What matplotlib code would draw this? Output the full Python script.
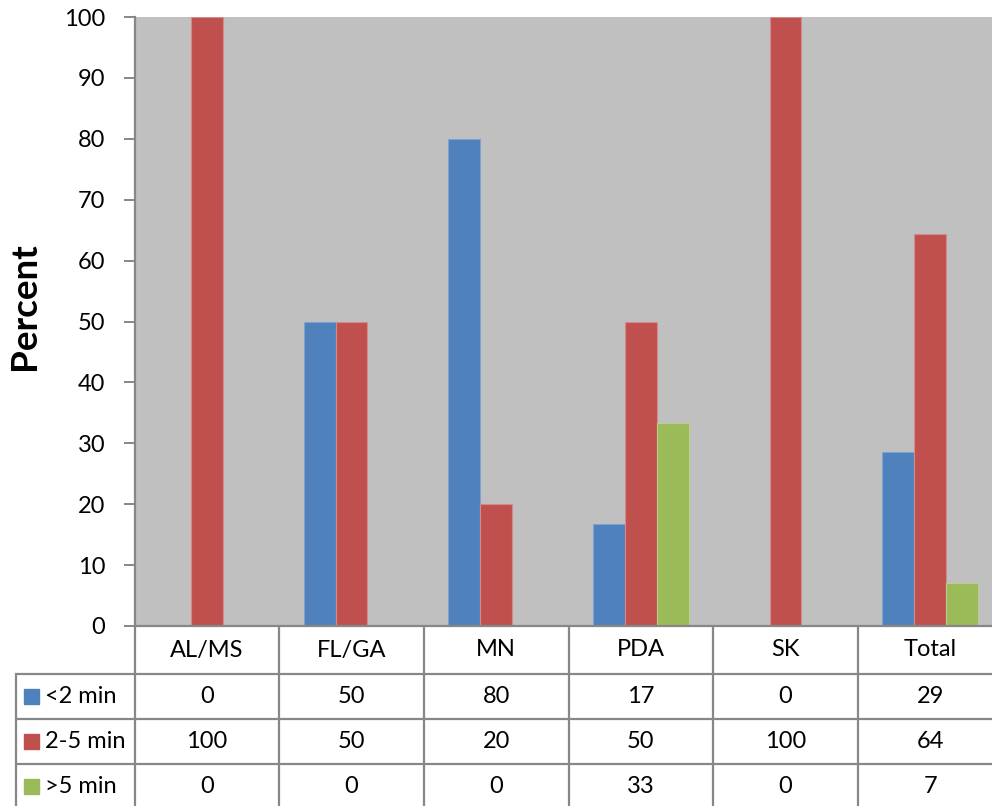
import matplotlib
matplotlib.use("Agg")
import matplotlib.pyplot as plt
import numpy as np

categories = ["AL/MS", "FL/GA", "MN", "PDA", "SK", "Total"]
series_names = ["<2 min", "2-5 min", ">5 min"]
under2 = [0, 50, 80, 16.7, 0, 28.6]
two_five = [100, 50, 20, 50, 100, 64.3]
over5 = [0, 0, 0, 33.3, 0, 7.1]
table_under2 = ["0", "50", "80", "17", "0", "29"]
table_two_five = ["100", "50", "20", "50", "100", "64"]
table_over5 = ["0", "0", "0", "33", "0", "7"]
yticks = [0, 10, 20, 30, 40, 50, 60, 70, 80, 90, 100]

colors = ["#4F81BD", "#C0504D", "#9BBB59"]
edge_colors = ["#7fa3d0", "#d48a88", "#b9cf8a"]
grid_gray = "#878787"
font = ["Lato", "DejaVu Sans"]
plt.rcParams["font.family"] = font
fs = 17

W, H = 992, 806
fig = plt.figure(figsize=(W / 100, H / 100), dpi=100)

px_left, px_right, px_top, px_bottom = 134.5, 1002.5, 17, 626
ax = fig.add_axes([px_left / W, 1 - px_bottom / H, (px_right - px_left) / W, (px_bottom - px_top) / H])
ax.set_facecolor("#C0C0C0")

x = np.arange(len(categories))
bw = 0.221
series = [under2, two_five, over5]
for i, vals in enumerate(series):
    ax.bar(x + (i - 1) * bw, vals, width=bw, color=colors[i], edgecolor=edge_colors[i],
           linewidth=0.8, zorder=2)

ax.set_xlim(-0.5, len(categories) - 0.5)
ax.set_ylim(0, 100)
ax.set_yticks(yticks)
ax.set_yticklabels([str(t) for t in yticks], fontsize=fs)
ax.set_xticks([])
for s in ["top", "right"]:
    ax.spines[s].set_visible(False)
for s in ["left", "bottom"]:
    ax.spines[s].set_color(grid_gray)
    ax.spines[s].set_linewidth(1.6)
ax.tick_params(axis="y", length=8, width=1.4, color=grid_gray, pad=13)

fig.text(25 / W, 1 - 306 / H, "Percent", rotation=90, ha="center", va="center",
         fontsize=26.5, fontweight="bold")

# Data table below the axes
unit_px = (px_right - px_left) / len(categories)
leg_px = px_left - 15
leg_units = leg_px / unit_px
tab_h = H - px_bottom
tax = fig.add_axes([15 / W, 0, (px_right - 15) / W, tab_h / H])
tax.set_xlim(-0.5 - leg_units, len(categories) - 0.5)
tax.set_ylim(tab_h, 0)
tax.axis("off")

row_edges = [0, 48, 93, 138, 183]
lw = 1.6
for k in range(len(categories) + 1):
    tax.plot([k - 0.5, k - 0.5], [0, 183], color=grid_gray, lw=lw, clip_on=False,
             solid_capstyle="butt")
tax.plot([-0.5 - leg_units + 0.006, -0.5 - leg_units + 0.006], [row_edges[1], 183],
         color=grid_gray, lw=lw, clip_on=False, solid_capstyle="butt")
for r in row_edges[1:4]:
    tax.plot([-0.5 - leg_units, len(categories) - 0.5], [r, r], color=grid_gray, lw=lw,
             clip_on=False, solid_capstyle="butt")

for j, c in enumerate(categories):
    tax.text(j, 24, c, ha="center", va="center", fontsize=fs)

table_rows = [table_under2, table_two_five, table_over5]
for i, (name, row) in enumerate(zip(series_names, table_rows)):
    yc = (row_edges[i + 1] + row_edges[i + 2]) / 2
    for j, v in enumerate(row):
        tax.text(j, yc, v, ha="center", va="center", fontsize=fs)
    # legend key
    key_x0 = -0.5 - leg_units + 9 / unit_px
    tax.add_patch(plt.Rectangle((key_x0, yc - 7.5), 15 / unit_px, 15, color=colors[i],
                                clip_on=False))
    tax.text(key_x0 + 21 / unit_px, yc, name, ha="left", va="center", fontsize=fs)

fig.savefig("out.png", dpi=100)
